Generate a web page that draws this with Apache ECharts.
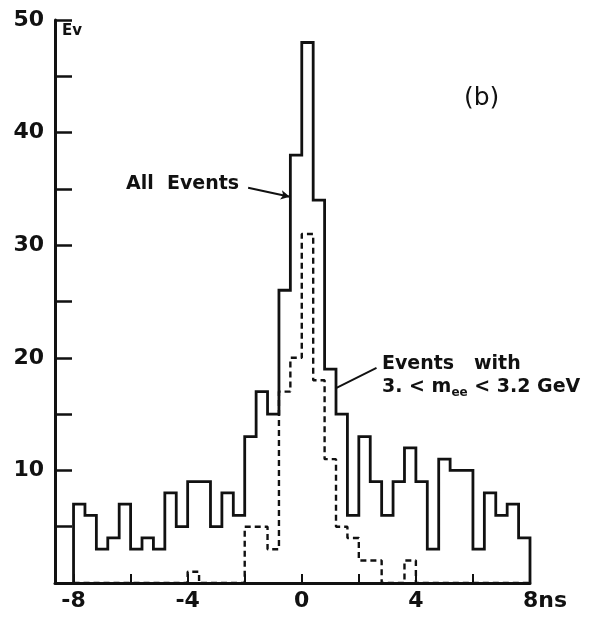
<!DOCTYPE html>
<html>
<head>
<meta charset="utf-8">
<script src="https://cdn.jsdelivr.net/npm/echarts@6/dist/echarts.min.js"></script>
<style>
html,body{margin:0;padding:0;background:#fff;}
#chart{width:602px;height:618px;}
</style>
</head>
<body>
<div id="chart"></div>
<script>
// ---- data ----
const binStart = -8;
const binWidth = 0.4;
// All events per 0.4 ns bin, from -8 to 8 ns
const allEvents = [7,6,3,4,7,3,4,3,8,5, 9,9,5,8,6,13,17,15,26,38, 48,34,19,15,6,13,9,6,9,12, 9,3,11,10,10,3,8,6,7,4];
// Events with 3. < m_ee < 3.2 GeV
const massCut = [0,0,0,0,0,0,0,0,0,0, 1,0,0,0,0,5,5,3,17,20, 31,18,11,5,4,2,2,0,0,2, 0,0,0,0,0,0,0,0,0,0];
const xLabelValues = [-8,-4,0,4,8];
const xTickValues = [-8,-6,-4,-2,0,2,4,6,8];
const yLabelValues = [10,20,30,40,50];

function stepPoints(vals){
  const pts = [[binStart,0]];
  vals.forEach((v,i)=>pts.push([binStart+i*binWidth, v]));
  const end = binStart + vals.length*binWidth;
  pts.push([end, vals[vals.length-1]]);
  pts.push([end, 0]);
  return pts;
}

const ink = '#111';
const numFont = {fontFamily:'DejaVu Sans', fontWeight:'bold', fontSize:22, color:ink};

const chart = echarts.init(document.getElementById('chart'), null, {renderer:'canvas'});
chart.setOption({
  backgroundColor:'#fff',
  animation:false,
  grid:{left:55, right:72, top:20, bottom:35},
  xAxis:{
    type:'value', min:-8.65, max:8,
    axisLine:{show:true, onZero:false, lineStyle:{color:ink, width:3}},
    axisTick:{show:true, inside:true, length:9, customValues:xTickValues, lineStyle:{color:ink, width:2}},
    axisLabel:{
      customValues:xLabelValues, margin:7, ...numFont,
      formatter:v=> v===8 ? '{u|8ns}' : String(v),
      rich:{u:{...numFont, padding:[0,0,0,30]}}
    },
    splitLine:{show:false}
  },
  yAxis:{
    type:'value', min:0, max:50, interval:5,
    axisLine:{show:true, onZero:false, lineStyle:{color:ink, width:3}},
    axisTick:{show:true, inside:true, length:17, lineStyle:{color:ink, width:2.5}},
    axisLabel:{margin:11, ...numFont, formatter:v=> yLabelValues.includes(v) ? String(v) : ''},
    splitLine:{show:false}
  },
  series:[
    {
      name:'All Events', type:'line', step:'end', symbol:'none',
      data:stepPoints(allEvents),
      lineStyle:{color:ink, width:2.8, join:'miter'},
      z:3,
      markLine:{
        silent:true, symbol:['none','arrow'], symbolSize:[7,9],
        label:{show:false},
        lineStyle:{color:ink, width:2, type:'solid'},
        data:[[{coord:[-1.88,35.1]},{coord:[-0.42,34.3]}]]
      }
    },
    {
      name:'Events with 3. < m_ee < 3.2 GeV', type:'line', step:'end', symbol:'none',
      data:stepPoints(massCut),
      lineStyle:{color:ink, width:2.4, type:[6,4]},
      z:2,
      markLine:{
        silent:true, symbol:['none','circle'], symbolSize:[1,5],
        label:{show:false},
        lineStyle:{color:ink, width:2, type:'solid'},
        data:[[{coord:[2.62,19.1]},{coord:[1.2,17.3]}]]
      }
    }
  ],
  graphic:[
    {type:'text', left:62, top:24, style:{text:'Ev', fontFamily:'DejaVu Sans', fontWeight:'bold', fontSize:15, fill:ink}},
    {type:'text', left:464, top:86, style:{text:'(b)', fontFamily:'DejaVu Sans', fontSize:25, fill:ink}},
    {type:'text', left:126, top:175, style:{text:'All  Events', fontFamily:'DejaVu Sans', fontWeight:'bold', fontSize:19, fill:ink}},
    {type:'text', left:382, top:355, style:{text:'Events   with', fontFamily:'DejaVu Sans', fontWeight:'bold', fontSize:19, fill:ink}},
    {type:'text', left:382, top:378, style:{
      text:'3. < m{s|ee} < 3.2 GeV', fontFamily:'DejaVu Sans', fontWeight:'bold', fontSize:19, fill:ink,
      rich:{s:{fontFamily:'DejaVu Sans', fontWeight:'bold', fontSize:12, fill:ink, padding:[10,0,0,0]}}
    }}
  ]
});
</script>
</body>
</html>
